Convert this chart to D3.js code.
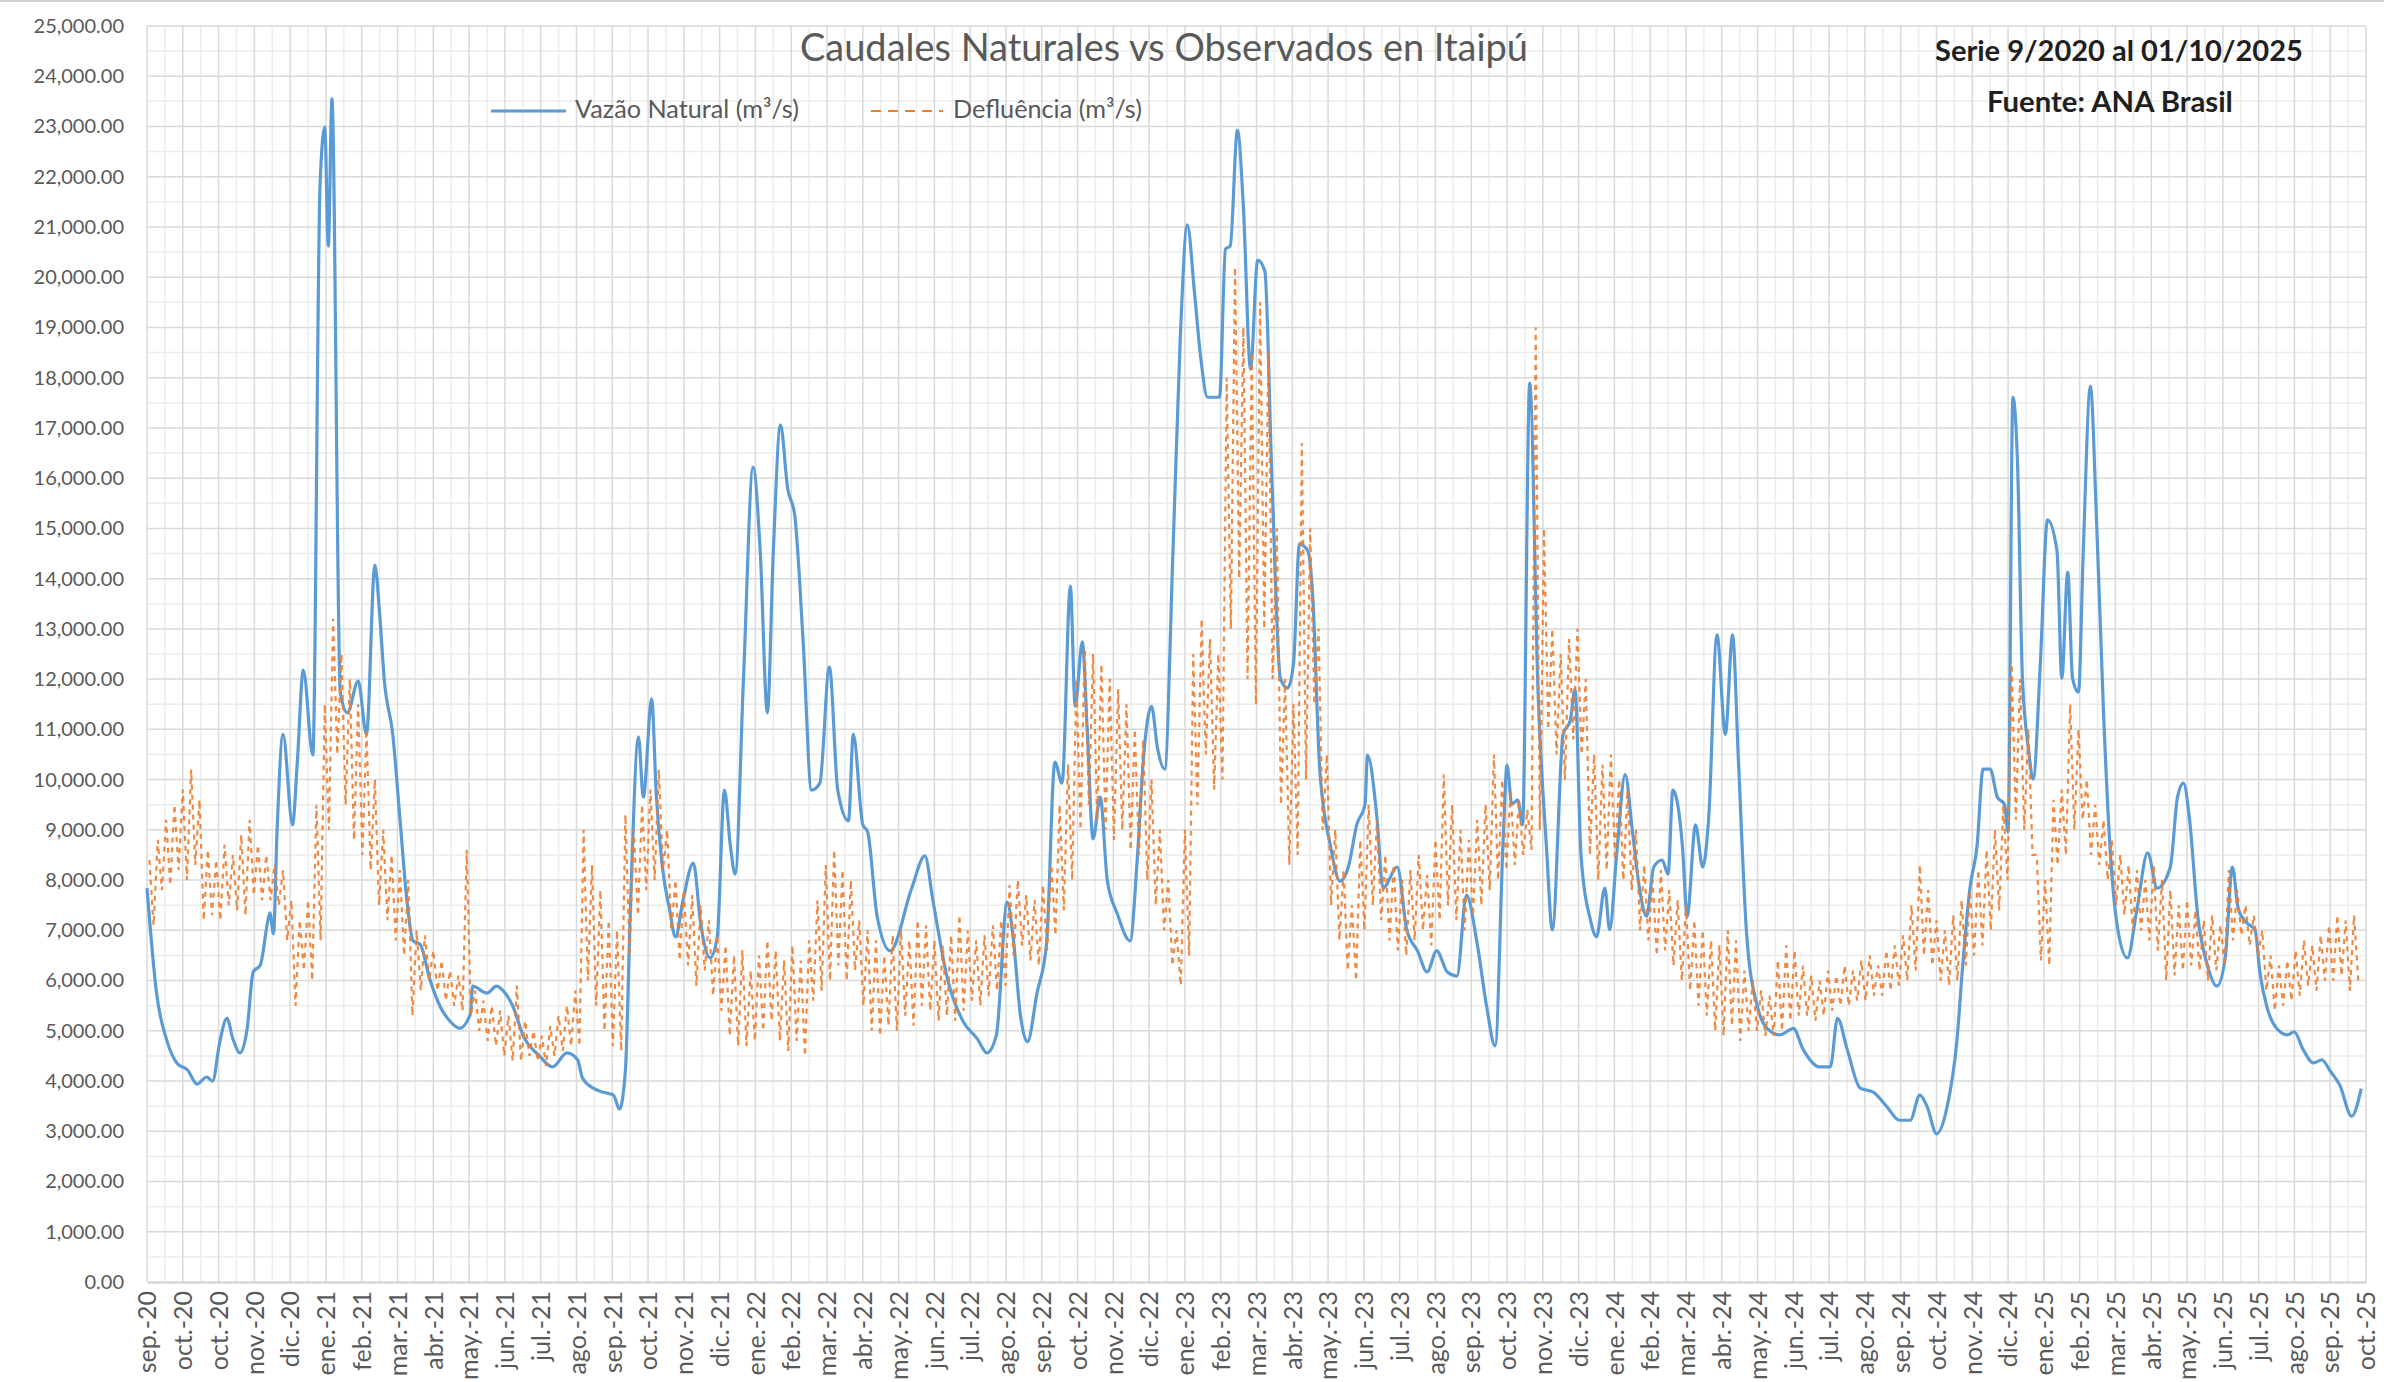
<!DOCTYPE html>
<html>
<head>
<meta charset="utf-8">
<script src="https://cdn.jsdelivr.net/npm/d3@7"></script>
<style>
  body { margin: 0; background: #fff; }
  svg text { font-family: Lato, "Liberation Sans", Arial, sans-serif; }
</style>
</head>
<body>
<div id="chart"></div>
<script>
/* ---- data ---- */

// first day of the series; all day offsets below count from here
const startDate = new Date(Date.UTC(2020, 8, 1));
const lastDataDay = 1856;   // 01/10/2025
const axisDays = 1860;

// Vazão Natural: day offset + flow (m3/s)
const naturalDay = [0,8,17,25,34,42,50,55,61,67,72,78,84,89,95,101,103,106,109,114,122,126,131,139,145,149,152,155,162,168,177,184,191,195,199,206,212,218,223,229,237,246,254,262,271,273,285,293,298,307,315,329,340,352,361,365,374,382,391,396,401,405,412,416,423,427,432,438,443,449,458,464,472,478,484,489,493,500,508,514,520,525,531,537,543,550,557,564,572,579,588,592,600,604,612,623,641,652,659,671,684,696,704,712,721,726,732,738,746,754,761,767,774,778,784,788,793,799,805,813,824,830,835,842,847,853,860,866,872,878,883,889,899,904,908,914,919,925,931,937,943,950,956,961,966,973,977,983,992,1000,1007,1014,1021,1023,1031,1036,1048,1056,1065,1073,1081,1090,1098,1106,1115,1123,1130,1137,1140,1144,1149,1153,1159,1166,1173,1178,1187,1193,1197,1202,1210,1215,1222,1226,1232,1239,1245,1251,1257,1263,1270,1275,1279,1287,1291,1298,1304,1309,1316,1323,1329,1334,1341,1350,1358,1369,1380,1388,1402,1411,1417,1425,1436,1447,1458,1469,1478,1486,1492,1500,1509,1517,1522,1528,1534,1539,1545,1551,1557,1560,1564,1568,1572,1577,1581,1587,1593,1601,1605,1610,1614,1619,1623,1629,1634,1640,1645,1652,1660,1668,1677,1685,1696,1702,1707,1712,1719,1727,1735,1742,1748,1753,1760,1767,1771,1777,1785,1794,1800,1807,1816,1823,1830,1838,1848,1856];
const naturalFlow = [7840,5750,4780,4360,4220,3940,4080,4000,4780,5250,4840,4560,5050,6170,6310,7150,7350,6930,8960,10900,9100,10350,12180,10490,21800,22990,20620,23550,11740,11330,11960,10900,14270,13300,11960,10900,9230,7560,6790,6720,6030,5470,5190,5050,5330,5890,5750,5890,5810,5470,4920,4500,4280,4560,4420,4060,3860,3780,3720,3440,4200,7280,10850,9650,11600,9650,8260,7420,6870,7560,8340,7150,6450,6870,9790,8680,8120,12020,16220,14550,11330,14550,17060,15800,15250,12740,9790,9930,12240,9790,9180,10900,9100,8960,7280,6590,7840,8480,7560,6030,5190,4840,4560,4920,7560,6870,5330,4780,5750,6730,10350,9930,13850,11460,12740,11050,8820,9650,7980,7350,6790,8400,10350,11460,10630,10210,14550,18730,21040,19700,18450,17610,17610,20560,20620,22930,21400,18170,20340,20120,15940,12020,11820,12300,14690,14550,13710,10210,8680,7980,8260,9100,9510,10490,9230,7840,8260,7010,6590,6170,6590,6170,6090,7700,6730,5470,4700,8960,10290,9510,9590,9100,17890,11740,8680,7010,10900,11180,11800,8500,7200,6870,7840,7010,8540,10100,9000,7840,7280,8260,8400,8120,9790,8680,7280,9100,8260,9230,12880,10900,12880,10350,6870,5470,5050,4920,5050,4640,4280,4280,5250,4640,3860,3780,3500,3220,3220,3720,3500,2950,3500,4780,6310,7840,8680,10210,10210,9650,9510,8960,17610,16220,12020,10630,10010,12300,15170,14550,12020,14130,12020,11740,14550,17830,15250,11330,8820,7010,6450,7420,8540,7840,8260,9650,9930,9230,7280,6310,5890,6450,8260,7420,7150,7010,6170,5470,5050,4920,4980,4640,4360,4420,4200,3920,3300,3850];

// Defluência: one weekday high and one weekend low per week (m3/s)
const outflowWeekHigh = [8400,8800,9200,9500,9800,10200,9600,
  8600,8400,8700,8500,8900,9200,8700,8500,8300,
  8200,7600,7200,7600,9500,
  11500,13200,12500,12000,11500,11000,10000,
  9000,8500,8200,8000,7000,
  6900,6600,6400,6200,6100,8600,
  5800,5600,5500,5400,5300,5900,5200,
  5000,4900,5100,5300,5500,5800,
  9000,8300,7800,7200,7000,
  9300,9000,9500,9800,10200,
  9000,8000,7800,7700,7500,7200,6900,
  6700,6500,6600,6200,6500,6800,6600,6400,6700,6400,
  6800,7600,8300,8600,8200,
  8000,7200,7000,6800,6500,6900,
  7000,6800,7200,7100,6800,6700,6900,7300,
  7000,6800,6900,7100,7200,
  7900,8000,7700,7600,7900,8300,
  9500,10300,
  12000,12600,12500,12300,12000,11800,11500,11000,
  10800,10000,9000,8000,7000,
  9000,12500,13200,12800,12500,
  18000,20200,19000,18500,19500,
  18500,15000,
  12000,11500,16700,15000,
  13000,10500,9000,8200,7500,
  8800,9500,9200,8500,
  8300,8000,8200,8500,8100,8800,
  10100,9500,9000,8800,9200,9500,
  10500,10000,9800,9600,9400,19000,
  15000,13000,12500,12800,13000,
  12000,10500,10300,10500,10000,9800,
  9000,8300,8000,8200,7800,7600,
  7500,7200,7000,6800,6700,7000,6800,6200,
  6000,5800,5700,6400,6700,6600,
  6300,6100,6000,6200,6100,6300,6200,6400,6500,6300,6600,6700,6900,
  7500,8300,7800,7200,
  7000,7300,7600,7800,8200,8600,9000,
  9500,12300,12000,11000,
  8500,8000,
  9600,9800,
  11500,11000,
  10000,9500,9200,
  8800,8500,8300,8200,8000,8300,
  8000,7800,7500,
  7600,7400,7200,7300,7100,
  8200,7800,7500,7300,
  7000,6500,6300,
  6400,6600,6800,6700,6900,
  7100,7300,7200,7300,7200];
const outflowWeekLow = [7100,7800,7900,8200,8000,8300,7200,
  7300,7200,7500,7400,7300,7700,7600,7600,7500,
  6800,5500,6200,6000,6800,
  9000,10500,9500,8800,8500,8200,7500,
  7200,6800,6500,5300,5800,
  6000,5800,5600,5500,5400,5300,
  5000,4800,4700,4500,4400,4400,4500,
  4400,4300,4500,4600,4700,4700,
  6000,5500,5000,4700,4600,
  6500,7300,7800,8000,8200,
  7000,6400,6300,5900,6200,5700,5400,
  4900,4700,4700,4800,5000,5200,4800,4600,4800,4500,
  5600,5800,6000,6300,6000,
  6200,5500,5000,4900,5100,5000,
  5300,5100,5500,5400,5200,5300,5200,5400,
  5600,5500,5700,5800,5900,
  6500,6700,6400,6300,6600,6900,
  7400,8000,
  9000,9500,9200,9000,8800,9000,8600,8500,
  8000,7500,7000,6300,5900,
  6500,9500,10500,9800,10000,
  13000,14000,12000,11500,13000,
  12000,9500,
  8300,8500,10000,11500,
  9000,7500,6800,6200,6000,
  7000,7500,7200,6800,
  6600,6500,6800,7000,6700,7200,
  7500,7200,7000,7300,7500,7800,
  8000,8200,8300,8500,8600,9000,
  11000,10500,10000,10800,10500,
  8500,8000,8200,8400,8000,7800,
  7000,6800,6500,6600,6300,6000,
  5800,5500,5300,5000,4900,5100,4800,5000,
  5000,4900,4900,5000,5200,5300,
  5300,5200,5300,5400,5500,5500,5600,5600,5700,5700,5800,5900,6000,
  6200,6500,6300,6000,
  5900,6000,6300,6500,6700,7000,7400,
  8000,9200,9000,8500,
  6400,6300,
  8300,8500,
  9000,9200,
  8500,8300,8000,
  7500,7300,7000,7000,6800,6600,
  6000,6100,6200,
  6300,6200,6000,6200,6300,
  6800,6900,6700,6500,
  5800,5400,5500,
  5600,5700,5900,5800,6000,
  6000,6100,5800,6000,5700];

const monthShort = ["ene.", "feb.", "mar.", "abr.", "may.", "jun.", "jul.", "ago.", "sep.", "oct.", "nov.", "dic."];
const seriesNames = ["Vazão Natural (m³/s)", "Defluência (m³/s)"];
const yMax = 25000;

/* ---- layout ---- */
const W = 2384, H = 1382;
const plot = { left: 147, right: 2366, top: 26, bottom: 1282 };
const blue = "#5B9BD5", orange = "#ED7D31", grey = "#595959";

const svg = d3.select("#chart").append("svg")
	.attr("width", W)
	.attr("height", H);

svg.append("rect").attr("width", W).attr("height", H).attr("fill", "#fff");
svg.append("line")
	.attr("x1", 0).attr("x2", W).attr("y1", 1).attr("y2", 1)
	.attr("stroke", "#d0d0d0").attr("stroke-width", 2);

const x = d3.scaleUtc()
	.domain([startDate, d3.utcDay.offset(startDate, axisDays)])
	.range([plot.left, plot.right]);

const y = d3.scaleLinear()
	.domain([0, yMax])
	.range([plot.bottom, plot.top]);

/* gridlines */
const grid = svg.append("g").attr("class", "grid");

grid.selectAll("line.hminor")
	.data(d3.range(500, yMax, 1000))
	.join("line")
	.attr("x1", plot.left).attr("x2", plot.right)
	.attr("y1", d => y(d)).attr("y2", d => y(d))
	.attr("stroke", "#ececec").attr("stroke-width", 1.5);

grid.selectAll("line.vminor")
	.data(d3.range(15, axisDays, 30))
	.join("line")
	.attr("x1", d => x(d3.utcDay.offset(startDate, d)))
	.attr("x2", d => x(d3.utcDay.offset(startDate, d)))
	.attr("y1", plot.top).attr("y2", plot.bottom)
	.attr("stroke", "#ececec").attr("stroke-width", 1.5);

grid.selectAll("line.hmajor")
	.data(d3.range(1000, yMax + 1, 1000))
	.join("line")
	.attr("x1", plot.left).attr("x2", plot.right)
	.attr("y1", d => y(d)).attr("y2", d => y(d))
	.attr("stroke", "#dadada").attr("stroke-width", 1.5);

const tickDates = d3.range(0, axisDays + 1, 30).map(d => d3.utcDay.offset(startDate, d));

grid.selectAll("line.vmajor")
	.data(tickDates)
	.join("line")
	.attr("x1", d => x(d)).attr("x2", d => x(d))
	.attr("y1", plot.top).attr("y2", plot.bottom)
	.attr("stroke", "#dadada").attr("stroke-width", 1.5);

/* axes */
const yAxis = svg.append("g")
	.attr("transform", `translate(${plot.left},0)`)
	.call(d3.axisLeft(y)
		.tickValues(d3.range(0, yMax + 1, 1000))
		.tickFormat(d3.format(",.2f"))
		.tickSize(0)
		.tickPadding(23));
yAxis.select(".domain").remove();
yAxis.selectAll("text")
	.attr("fill", grey)
	.attr("font-size", 20);

const fmtMonth = d => monthShort[d.getUTCMonth()] + "-" + String(d.getUTCFullYear()).slice(2);

const xAxis = svg.append("g")
	.attr("transform", `translate(0,${plot.bottom})`)
	.call(d3.axisBottom(x)
		.tickValues(tickDates)
		.tickFormat(fmtMonth)
		.tickSize(0));
xAxis.select(".domain").attr("stroke", "#d0d0d0").attr("stroke-width", 2);
xAxis.selectAll("text")
	.attr("fill", grey)
	.attr("font-size", 25)
	.attr("y", 0)
	.attr("x", -9)
	.attr("dy", "0.35em")
	.attr("transform", "rotate(-90)")
	.style("text-anchor", "end");

/* series */
const naturalPoints = naturalDay.map((d, i) => ({ date: d3.utcDay.offset(startDate, d), value: naturalFlow[i] }));

const outflowPoints = [];
outflowWeekHigh.forEach((hi, w) => {
	outflowPoints.push({ day: w * 7 + 2, value: hi });
	outflowPoints.push({ day: w * 7 + 5.5, value: outflowWeekLow[w] });
});
const outflowSeries = outflowPoints
	.filter(p => p.day <= lastDataDay)
	.map(p => ({ date: new Date(startDate.getTime() + p.day * 864e5), value: p.value }));

const naturalLine = d3.line()
	.x(d => x(d.date))
	.y(d => y(d.value))
	.curve(d3.curveMonotoneX);

const outflowLine = d3.line()
	.x(d => x(d.date))
	.y(d => y(d.value));

svg.append("path")
	.datum(naturalPoints)
	.attr("fill", "none")
	.attr("stroke", blue)
	.attr("stroke-width", 3.2)
	.attr("stroke-linejoin", "round")
	.attr("d", naturalLine);

svg.append("path")
	.datum(outflowSeries)
	.attr("fill", "none")
	.attr("stroke", orange)
	.attr("stroke-width", 2.2)
	.attr("stroke-dasharray", "5,5")
	.attr("stroke-opacity", 0.9)
	.attr("d", outflowLine);

/* text helpers */
function fitText(sel, width) {
	const len = sel.node().getComputedTextLength();
	const fs = parseFloat(sel.attr("font-size"));
	sel.attr("font-size", (fs * width / len).toFixed(2));
	return sel;
}

/* title */
fitText(svg.append("text")
	.attr("x", 800).attr("y", 61)
	.attr("font-size", 34)
	.attr("fill", grey)
	.text("Caudales Naturales vs Observados en Itaipú"), 728);

/* legend */
const legend = svg.append("g").attr("class", "legend");
legend.append("line")
	.attr("x1", 491).attr("x2", 566).attr("y1", 111).attr("y2", 111)
	.attr("stroke", blue).attr("stroke-width", 3.2);
fitText(legend.append("text")
	.attr("x", 575).attr("y", 118)
	.attr("font-size", 21)
	.attr("fill", grey)
	.text(seriesNames[0]), 224);
legend.append("line")
	.attr("x1", 871).attr("x2", 943).attr("y1", 111).attr("y2", 111)
	.attr("stroke", orange).attr("stroke-width", 2.2)
	.attr("stroke-dasharray", "10,7");
fitText(legend.append("text")
	.attr("x", 953).attr("y", 118)
	.attr("font-size", 21)
	.attr("fill", grey)
	.text(seriesNames[1]), 189);

/* note */
fitText(svg.append("text")
	.attr("x", 1935).attr("y", 61)
	.attr("font-size", 28)
	.attr("font-weight", "bold")
	.attr("fill", "#1f1f1f")
	.text("Serie 9/2020 al 01/10/2025"), 368);
fitText(svg.append("text")
	.attr("x", 1987).attr("y", 112)
	.attr("font-size", 28)
	.attr("font-weight", "bold")
	.attr("fill", "#1f1f1f")
	.text("Fuente: ANA Brasil"), 246);
</script>
</body>
</html>
